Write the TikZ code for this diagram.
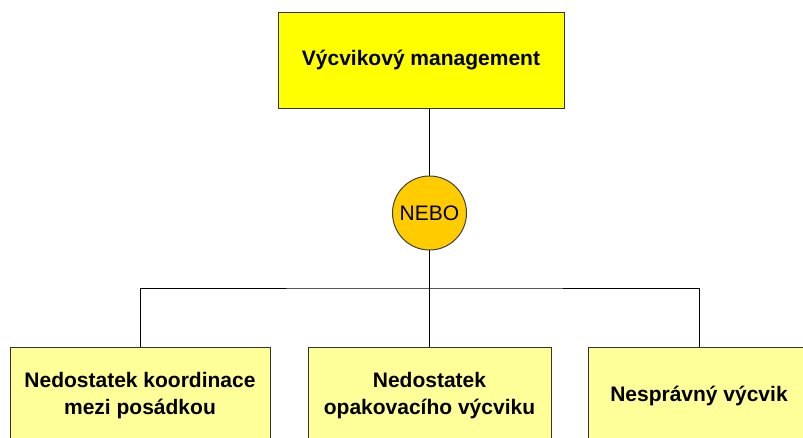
\documentclass[tikz,border=0pt]{standalone}
\usepackage{fontspec}
\setmainfont{Liberation Sans}
\begin{document}
\begin{tikzpicture}[x=1pt,y=-1pt,
  every node/.style={inner sep=0pt,outer sep=0pt},
  topbox/.style={draw=black!80,line width=1pt,fill=topyellow,
    minimum width=286pt,minimum height=96pt,
    font=\fontsize{21}{25}\selectfont\bfseries},
  gate/.style={circle,draw=black!75,line width=1pt,fill=gateorange,
    minimum size=74pt,font=\fontsize{21}{25}\selectfont},
  leafbox/.style={draw=black!80,line width=1pt,fill=leafyellow,
    minimum height=98pt,align=center,
    font=\fontsize{21}{27}\selectfont\bfseries},
  wire/.style={draw=black,line width=1pt}]
\definecolor{topyellow}{HTML}{FFFF00}
\definecolor{gateorange}{HTML}{FFCC00}
\definecolor{leafyellow}{HTML}{FFFF99}
\useasboundingbox (0,0) rectangle (803,437);
\clip (0,0) rectangle (803,437);
\node[topbox] (top) at (421,60) {Výcvikový management};
\node[gate] (or) at (429.5,213) {NEBO};
\node[leafbox,minimum width=260pt] (a) at (140,396) {Nedostatek koordinace\\mezi posádkou};
\node[leafbox,minimum width=243pt] (b) at (429.5,396) {Nedostatek\\opakovacího výcviku};
\node[leafbox,minimum width=222pt] (c) at (699,396) {Nesprávný výcvik};
\coordinate (bus) at (429.5,288);
\draw[wire] (top.south -| or.north) -- (or.north);
\draw[wire] (or.south) -- (bus);
\draw[wire] (a.north) |- (bus) -| (c.north);
\draw[wire] (bus) -- (b.north);
\end{tikzpicture}
\end{document}
